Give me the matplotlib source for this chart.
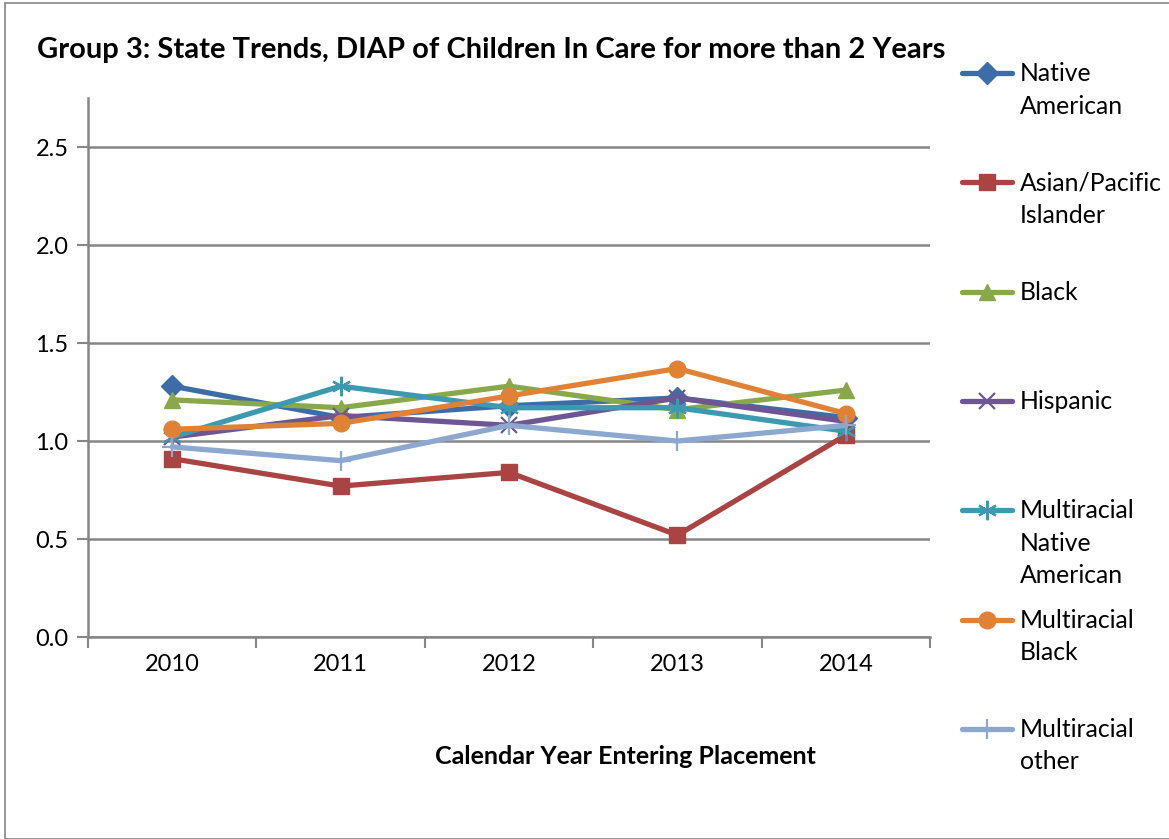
import matplotlib.pyplot as plt
from matplotlib.lines import Line2D
from matplotlib.patches import Rectangle

# Data
years = ['2010', '2011', '2012', '2013', '2014']
native_american = [1.28, 1.12, 1.18, 1.22, 1.12]
asian_pacific = [0.91, 0.77, 0.84, 0.52, 1.03]
black = [1.21, 1.17, 1.28, 1.16, 1.26]
hispanic = [1.02, 1.13, 1.08, 1.22, 1.10]
multi_native = [1.02, 1.28, 1.17, 1.17, 1.05]
multi_black = [1.06, 1.09, 1.23, 1.37, 1.14]
multi_other = [0.97, 0.90, 1.08, 1.00, 1.08]

series = [
    ('Native\nAmerican', native_american, '#3D6DA8', 'D', 11, 1.0),
    ('Asian/Pacific\nIslander', asian_pacific, '#A94442', 's', 11, 1.0),
    ('Black', black, '#88A84A', '^', 12, 1.0),
    ('Hispanic', hispanic, '#6D5693', 'x', 12, 1.6),
    ('Multiracial\nNative\nAmerican', multi_native, '#3C99B0', (6, 2, 0), 14, 1.6),
    ('Multiracial\nBlack', multi_black, '#E08236', 'o', 12, 1.0),
    ('Multiracial\nother', multi_other, '#8DA8CF', '+', 14, 1.6),
]

plt.rcParams['font.family'] = ['Lato', 'DejaVu Sans']

fig = plt.figure(figsize=(11.69, 8.39), dpi=100)
ax = fig.add_axes([0.0753, 0.2407, 0.7203, 0.6425])

x = range(len(years))
for label, vals, color, marker, ms, mew in series:
    ax.plot(x, vals, color=color, lw=3.8, marker=marker, markersize=ms,
            markeredgewidth=mew, markerfacecolor=color, markeredgecolor=color,
            solid_capstyle='round', solid_joinstyle='round')

ax.set_xlim(-0.5, 4.5)
ax.set_ylim(0, 2.75)
ax.set_yticks([0, 0.5, 1.0, 1.5, 2.0, 2.5])
ax.set_yticklabels(['0.0', '0.5', '1.0', '1.5', '2.0', '2.5'])
ax.set_xticks(list(x))
ax.set_xticklabels(years)
ax.set_xticks([i - 0.5 for i in range(len(years) + 1)], minor=True)
ax.tick_params(axis='x', which='major', length=0, pad=12, labelsize=17)
ax.tick_params(axis='x', which='minor', length=8, width=1.5, color='#868686', direction='out')
ax.tick_params(axis='y', length=8, width=1.5, color='#868686', direction='out', pad=6, labelsize=17)

ax.grid(axis='y', color='#868686', lw=1.8)
ax.set_axisbelow(True)
for s in ['top', 'right']:
    ax.spines[s].set_visible(False)
for s in ['left', 'bottom']:
    ax.spines[s].set_color('#868686')
    ax.spines[s].set_linewidth(1.8)

fig.text(0.032, 0.94, 'Group 3: State Trends, DIAP of Children In Care for more than 2 Years',
         fontsize=21, fontweight='bold', va='center', ha='left')
fig.text(0.535, 0.098, 'Calendar Year Entering Placement', fontsize=18,
         fontweight='bold', ha='center', va='center')

# legend drawn by hand so multi-line labels align with their markers at the top
for i, (label, vals, color, marker, ms, mew) in enumerate(series):
    yc = 1 - (73 + i * 109.3) / 839
    fig.add_artist(Line2D([962 / 1169, 1012 / 1169], [yc, yc], color=color, lw=3.8,
                          solid_capstyle='round'))
    fig.add_artist(Line2D([987 / 1169], [yc], color=color, marker=marker, markersize=ms,
                          markeredgewidth=mew, markerfacecolor=color, markeredgecolor=color))
    fig.text(1020 / 1169, yc + 11 / 839, label, fontsize=17.8, va='top', ha='left',
             linespacing=1.5)

fig.add_artist(Rectangle((0.004, 0.0), 1.2, 0.996, transform=fig.transFigure,
                         fill=False, edgecolor='#868686', lw=1.2))

fig.savefig('out.png', dpi=100)
